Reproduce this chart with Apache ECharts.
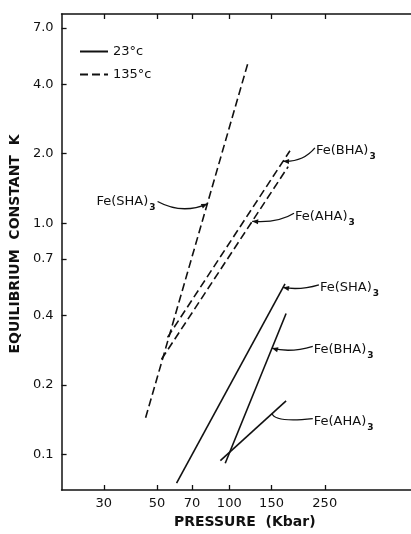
<!DOCTYPE html>
<html>
<head>
<meta charset="utf-8">
<script src="https://cdn.jsdelivr.net/npm/echarts@6/dist/echarts.min.js"></script>
<style>
  html, body { margin: 0; padding: 0; background: #fff; }
  #chart { width: 411px; height: 534px; }
</style>
</head>
<body>
<div id="chart"></div>
<script>
// axis ticks (pressure in kbar, equilibrium constant K)
const xTicks = [30, 50, 70, 100, 150, 250];
const yTicks = [0.1, 0.2, 0.4, 0.7, 1.0, 2.0, 4.0, 7.0];

// 23°c — solid lines, [pressure], [K]
const sha23P = [60.3, 170.7];
const sha23K = [0.075, 0.547];
const bha23P = [96.2, 172.5];
const bha23K = [0.0915, 0.407];
const aha23P = [91.8, 172.5];
const aha23K = [0.094, 0.1705];

// 135°c — dashed lines
const sha135P = [44.8, 120];
const sha135K = [0.144, 5.0];
const bha135P = [55.3, 179];
const bha135K = [0.321, 2.06];
const aha135P = [52.2, 176];
const aha135K = [0.258, 1.76];

// line labels: text, which series it points at, pressure of the arrow tip, text anchor
const labelText = ["Fe(SHA)", "Fe(BHA)", "Fe(AHA)", "Fe(SHA)", "Fe(BHA)", "Fe(AHA)"];
const labelSeries = [3, 4, 5, 0, 1, 2];
const labelTipP = [81, 167.5, 124.6, 167.5, 150.7, 150.7];
const labelAtP = [49.3, 229.6, 187.9, 238.6, 225, 225];
const labelAtK = [1.243, 2.057, 1.072, 0.526, 0.285, 0.1386];

const FONT = "DejaVu Sans";
const INK = "#111";
const L = Math.log10;

function line(name, P, K, dashed) {
  return {
    name,
    type: "line",
    data: P.map((p, i) => [L(p), L(K[i])]),
    symbol: "none",
    silent: true,
    animation: false,
    itemStyle: { color: INK },
    lineStyle: { color: INK, width: 1.6, type: dashed ? [8, 4] : "solid" },
  };
}

const series = [
  line("23°c", sha23P, sha23K, false),
  line("23°c", bha23P, bha23K, false),
  line("23°c", aha23P, aha23K, false),
  line("135°c", sha135P, sha135K, true),
  line("135°c", bha135P, bha135K, true),
  line("135°c", aha135P, aha135K, true),
];

const xMin = L(20), xMax = L(572);
const yMin = L(0.0701), yMax = L(8.05);

const axisCommon = {
  type: "value",
  axisLine: { show: true, onZero: false, lineStyle: { color: INK, width: 1.5 } },
  splitLine: { show: false },
};

const chart = echarts.init(document.getElementById("chart"));
chart.setOption({
  animation: false,
  backgroundColor: "#fff",
  grid: { left: 60, top: 14, right: 0, bottom: 40 },
  legend: {
    data: ["23°c", "135°c"],
    orient: "vertical",
    left: 74,
    top: 40,
    itemWidth: 28,
    itemHeight: 12,
    itemGap: 10,
    itemStyle: { opacity: 0 },
    textStyle: { color: INK, fontSize: 13, fontFamily: FONT },
  },
  xAxis: [
    {
      ...axisCommon,
      position: "bottom",
      min: xMin,
      max: xMax,
      name: "PRESSURE  (Kbar)",
      nameLocation: "middle",
      nameGap: 25,
      nameTextStyle: { color: INK, fontSize: 14, fontWeight: "bold", fontFamily: FONT, padding: [0, 0, 0, 17] },
      axisTick: { inside: true, length: 5, customValues: xTicks.map(L), lineStyle: { color: INK, width: 1.3 } },
      axisLabel: {
        customValues: xTicks.map(L),
        formatter: (v) => String(Math.round(Math.pow(10, v))),
        color: INK,
        fontSize: 13,
        fontFamily: FONT,
        margin: 7,
      },
    },
    {
      ...axisCommon,
      position: "top",
      min: xMin,
      max: xMax,
      axisTick: { inside: true, length: 5, customValues: xTicks.map(L), lineStyle: { color: INK, width: 1.3 } },
      axisLabel: { show: false },
    },
  ],
  yAxis: {
    ...axisCommon,
    min: yMin,
    max: yMax,
    name: "EQUILIBRIUM  CONSTANT  K",
    nameLocation: "middle",
    nameRotate: 90,
    nameGap: 33,
    nameTextStyle: { color: INK, fontSize: 14, fontWeight: "bold", fontFamily: FONT, padding: [0, 0, 0, 16] },
    axisTick: { inside: true, length: 5, customValues: yTicks.map(L), lineStyle: { color: INK, width: 1.3 } },
    axisLabel: {
      customValues: yTicks.map(L),
      formatter: (v) => Math.pow(10, v).toFixed(1),
      color: INK,
      fontSize: 13,
      fontFamily: FONT,
      margin: 8,
    },
  },
  series,
});

// K on a series at pressure p (straight line in log-log space)
function kOnSeries(idx, p) {
  const d = series[idx].data;
  const t = (L(p) - d[0][0]) / (d[1][0] - d[0][0]);
  return Math.pow(10, d[0][1] + t * (d[1][1] - d[0][1]));
}

// leader curve bends (px relative to the tip), and whether an arrow head is drawn
const bend = [[-25, 11], [20, 1], [26, 2], [17, 3], [18, 5], [3, 9]];
const arrow = [true, true, true, true, true, false];

const toPx = (p, k) => chart.convertToPixel({ xAxisIndex: 0, yAxisIndex: 0 }, [L(p), L(k)]);
const graphic = [];
labelText.forEach((txt, i) => {
  const tip = toPx(labelTipP[i], kOnSeries(labelSeries[i], labelTipP[i]));
  const at = toPx(labelAtP[i], labelAtK[i]);
  const leftSide = at[0] < tip[0];
  graphic.push({
    type: "text",
    x: at[0],
    y: at[1],
    silent: true,
    style: {
      text: `{a|${txt}}{s|3}`,
      align: leftSide ? "right" : "left",
      verticalAlign: "middle",
      fill: INK,
      rich: {
        a: { fontSize: 13, fontFamily: FONT, fill: INK },
        s: { fontSize: 9, fontWeight: "bold", fontFamily: FONT, fill: INK, padding: [12, 0, 0, 1] },
      },
    },
  });
  const start = leftSide ? [at[0] + 2, at[1]] : [at[0] - 1, at[1] - 3];
  const cp = [tip[0] + bend[i][0], tip[1] + bend[i][1]];
  graphic.push({
    type: "bezierCurve",
    silent: true,
    shape: { x1: start[0], y1: start[1], x2: tip[0], y2: tip[1], cpx1: cp[0], cpy1: cp[1] },
    style: { stroke: INK, lineWidth: 1.3, fill: null },
  });
  if (arrow[i]) {
    const dx = tip[0] - cp[0], dy = tip[1] - cp[1];
    const n = Math.hypot(dx, dy) || 1;
    const ux = dx / n, uy = dy / n;
    const bx = tip[0] - ux * 6, by = tip[1] - uy * 6;
    graphic.push({
      type: "polygon",
      silent: true,
      shape: { points: [tip, [bx - uy * 2.5, by + ux * 2.5], [bx + uy * 2.5, by - ux * 2.5]] },
      style: { fill: INK },
    });
  }
});
chart.setOption({ graphic });
</script>
</body>
</html>
